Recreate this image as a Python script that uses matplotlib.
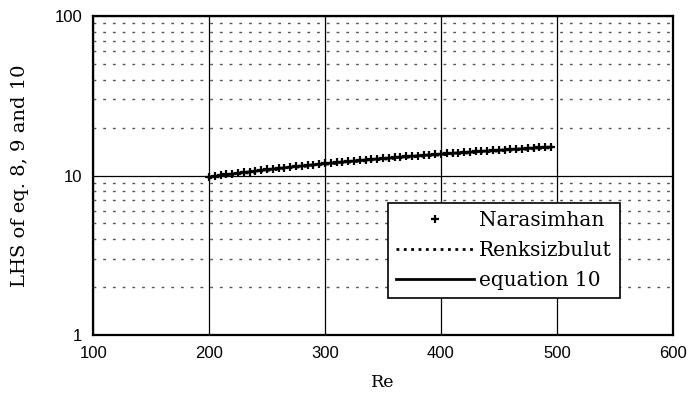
import matplotlib.pyplot as plt
from matplotlib.ticker import LogLocator, NullFormatter, FixedLocator

# Re values and the three curves (they almost overlap)
re_points = [200, 205, 210, 215, 220, 225, 230, 235, 240, 245,
             250, 255, 260, 265, 270, 275, 280, 285, 290, 295,
             300, 305, 310, 315, 320, 325, 330, 335, 340, 345,
             350, 355, 360, 365, 370, 375, 380, 385, 390, 395,
             400, 405, 410, 415, 420, 425, 430, 435, 440, 445,
             450, 455, 460, 465, 470, 475, 480, 485, 490, 495]
narasimhan = [9.80, 9.92, 10.03, 10.15, 10.26, 10.37, 10.48, 10.59, 10.70, 10.80,
              10.91, 11.01, 11.11, 11.22, 11.32, 11.42, 11.52, 11.62, 11.71, 11.81,
              11.91, 12.00, 12.10, 12.19, 12.28, 12.37, 12.46, 12.55, 12.64, 12.73,
              12.82, 12.90, 12.99, 13.08, 13.16, 13.24, 13.33, 13.41, 13.49, 13.57,
              13.67, 13.75, 13.83, 13.91, 13.99, 14.07, 14.15, 14.23, 14.31, 14.39,
              14.46, 14.54, 14.62, 14.69, 14.77, 14.84, 14.92, 14.99, 15.07, 15.14]

re_lines = [200, 225, 250, 275, 300, 325, 350, 375, 400, 425, 450, 475, 495]
renksizbulut = [9.65, 10.22, 10.76, 11.27, 11.75, 12.21, 12.65, 13.07, 13.48, 13.88, 14.26, 14.63, 14.93]
equation10 = [9.75, 10.33, 10.87, 11.38, 11.86, 12.32, 12.77, 13.20, 13.61, 14.01, 14.40, 14.78, 15.08]

label_font = 'DejaVu Serif'

fig = plt.figure(figsize=(6.9, 4.03), dpi=100)
ax = fig.add_axes([0.135, 0.169, 0.840, 0.791])

ax.plot(re_points, narasimhan, '+', color='black', markersize=6, markeredgewidth=1.6, label='Narasimhan')
ax.plot(re_lines, renksizbulut, ':', color='black', linewidth=2, label='Renksizbulut')
ax.plot(re_lines, equation10, '-', color='black', linewidth=2, label='equation 10')

ax.set_yscale('log')
ax.set_xlim(100, 600)
ax.set_ylim(1, 100)
ax.xaxis.set_major_locator(FixedLocator([100, 200, 300, 400, 500, 600]))
ax.yaxis.set_major_locator(FixedLocator([1, 10, 100]))
ax.yaxis.set_minor_locator(LogLocator(base=10, subs=range(2, 10)))
ax.yaxis.set_minor_formatter(NullFormatter())
ax.set_yticklabels(['1', '10', '100'])

ax.grid(True, which='major', color='black', linewidth=0.9)
ax.grid(True, which='minor', axis='y', color='#555555', linestyle=(0, (2, 5)), linewidth=1.0)
ax.tick_params(which='both', length=0, labelsize=12, pad=8)
for lab in ax.get_xticklabels() + ax.get_yticklabels():
    lab.set_family('Liberation Sans')
for sp in ax.spines.values():
    sp.set_linewidth(1.6)

ax.set_xlabel('Re', family=label_font, fontsize=12.5, labelpad=9)
ax.set_ylabel('LHS of eq. 8, 9 and 10', family=label_font, fontsize=14, labelpad=18)

leg = ax.legend(loc='lower left', bbox_to_anchor=(0.508, 0.116), fancybox=False,
                edgecolor='black', framealpha=1, prop={'family': label_font, 'size': 14.5},
                handlelength=3.9, handletextpad=0.25, borderpad=0.4, labelspacing=0.55,
                borderaxespad=0)
leg.get_frame().set_linewidth(1.2)

fig.savefig('out.png', dpi=100)
